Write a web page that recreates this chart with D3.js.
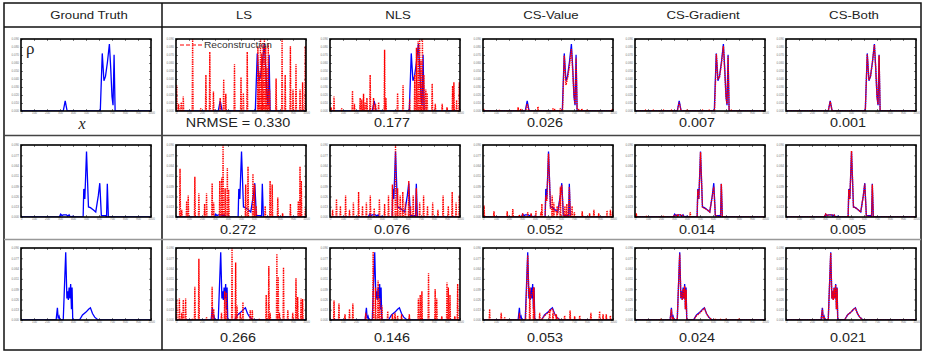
<!DOCTYPE html>
<html>
<head>
<meta charset="utf-8">
<script src="https://cdn.jsdelivr.net/npm/d3@7"></script>
<style>
  body { margin: 0; background: #fff; }
  text { font-family: "Liberation Sans", Arial, sans-serif; }
</style>
</head>
<body>
<svg id="fig" width="925" height="353"></svg>
<script>
// column titles and error values
const methods = ["Ground Truth", "LS", "NLS", "CS-Value", "CS-Gradient", "CS-Both"];
const nrmseRow1 = [0.330, 0.177, 0.026, 0.007, 0.001];
const nrmseRow2 = [0.272, 0.076, 0.052, 0.014, 0.005];
const nrmseRow3 = [0.266, 0.146, 0.053, 0.024, 0.021];
const xTicks = [0, 10, 20, 30, 40, 50, 60, 70, 80, 90, 100];
const yTickCounts = [10, 8, 8];

// ground truth densities, [x, rho]
const truth1 = [[0,0],[32.5,0],[34,0.14],[35.5,0],[61,0],[62.5,0.80],[63.8,0.42],[65,0.48],[66.5,0.68],[68,0.93],[69,0.6],[70,0.2],[70.8,0.08],[71.6,0.78],[72.4,0],[100,0]];
const truth2 = [[0,0],[29.5,0],[30.5,0.04],[31.5,0.02],[32.5,0.03],[34,0.03],[35,0.03],[36,0.01],[37,0.03],[38,0],[40,0.01],[41,0],[47.8,0],[48.3,0.39],[49.1,0.25],[50.4,0.91],[51.9,0.14],[53.4,0.13],[55.5,0.1],[57.5,0.07],[59.5,0.3],[60.6,0.47],[61.8,0.02],[65,0.02],[65.8,0],[66.4,0.46],[67.2,0],[100,0]];
const truth3 = [[0,0],[27,0],[28,0.17],[28.6,0.02],[29.3,0.05],[30,0],[32.5,0],[34.4,0.94],[35.3,0.3],[35.8,0.4],[36.4,0.28],[37,0.45],[37.6,0.3],[38.2,0.5],[38.8,0.15],[39.3,0.45],[39.8,0],[45,0],[47.3,0.07],[50,0.11],[52,0.15],[53.4,0.17],[55,0.09],[56.7,0.04],[59.3,0],[100,0]];

// reconstructions: smooth parts [x, rho] and isolated spikes [x, height]
const ls1Spikes = [[0.5,0.36],[2,0.1],[4,0.12],[5.6,0.2],[12.8,1.0],[19,0.04],[23,0.5],[26,0.82],[28.8,0.27],[34,0.18],[36.7,0.44],[38.3,0.24],[45,0.65],[50,0.47],[51.8,0.25],[54.8,0.82],[63,0.9],[64,0.55],[65,1.0],[66,0.8],[67,0.95],[68,1.0],[69,0.9],[70,0.6],[71,0.95],[72,0.3],[77,0.45],[81.6,1.0],[84,0.5],[88,0.9],[90,0.3],[92.3,0.65],[95.4,0.3],[97.4,0.4],[99.5,0.9]];
const nls1Spikes = [[0.8,0.05],[3.1,0.2],[9,0.04],[17.3,0.28],[18.8,0.1],[23.2,0.18],[24.5,0.16],[25.8,0.24],[27,0.12],[28.4,0.18],[30.9,0.5],[33.5,0.18],[35,0.1],[37.4,0.12],[42,0.85],[43,0.18],[52,0.25],[56.2,0.36],[61.3,0.17],[65.2,0.5],[66.5,0.88],[67.8,0.97],[69,1.0],[70,0.7],[71.1,1.0],[72.2,0.5],[73.7,0.3],[74.7,0.25],[78.6,0.38],[81,0.1],[86.3,0.1],[90,0.05],[94.3,0.35],[95.3,0.4],[97.4,0.15],[99.5,0.4]];
const csv1Line = [[0,0],[32.8,0],[34,0.1],[35.3,0],[61.2,0],[62.5,0.77],[63.8,0.36],[65,0.45],[66.5,0.62],[68,0.86],[69,0.55],[70,0.22],[70.8,0.1],[71.6,0.74],[72.4,0],[100,0]];
const csv1Spikes = [[0.5,0.03],[12.8,0.02],[27,0.05],[29,0.03],[42.3,0.06],[53.8,0.04],[55,0.03],[59.5,0.04],[73.5,0.03],[76,0.03],[80,0.02],[99.5,0.03]];
const csg1Line = [[0,0],[32.6,0],[34,0.12],[35.4,0],[61.2,0],[62.6,0.79],[63.8,0.45],[65,0.47],[66.5,0.66],[68,0.9],[69,0.55],[70,0.2],[70.8,0.1],[71.6,0.76],[72.4,0],[100,0]];
const csg1Spikes = [[8,0.01],[14,0.01],[22,0.01],[28,0.01],[40,0.01],[52,0.01],[57,0.01],[74,0.01]];
const csb1Line = [[0,0],[32.5,0],[34,0.13],[35.5,0],[61,0],[62.5,0.79],[63.8,0.43],[65,0.48],[66.5,0.68],[68,0.92],[69,0.6],[70,0.2],[70.8,0.09],[71.6,0.77],[72.4,0],[100,0]];

const ls2Spikes = [[3.1,0.67],[4.4,0.1],[8.2,0.22],[9.4,0.3],[14.5,0.56],[17.6,0.33],[22,0.18],[23.5,0.33],[27.8,0.47],[29,0.2],[33.7,0.5],[35.2,0.55],[36.2,1.0],[37.8,0.4],[39.5,0.68],[40.5,0.38],[53.6,0.45],[55.4,0.7],[59.2,0.6],[60.4,0.45],[61.7,0.15],[68.6,0.15],[72.4,0.5],[74,0.45],[78.3,0.27],[82,0.05],[88,0.18],[94.1,0.22],[95.4,0.7],[96.4,0.5],[99.5,0.12]];
const nls2Spikes = [[2,0.1],[5,0.25],[8,0.15],[12,0.3],[15,0.1],[18,0.2],[22,0.35],[25,0.15],[28,0.2],[31,0.3],[34,0.12],[38,0.25],[42,0.18],[45,0.3],[48,0.45],[50.4,1.0],[52,0.4],[54,0.3],[56,0.35],[58,0.2],[60.6,0.5],[62,0.15],[64,0.3],[66.4,0.4],[69,0.2],[72,0.3],[75,0.15],[79,0.2],[83,0.1],[87,0.3],[91,0.15],[94,0.35],[97,0.2],[99.5,0.3]];
const csv2Line = [[0,0],[47.8,0],[48.3,0.3],[49.1,0.22],[50.4,0.88],[51.9,0.12],[53.4,0.1],[55.5,0.08],[57.5,0.06],[59.5,0.28],[60.6,0.44],[61.8,0.02],[65.8,0],[66.4,0.42],[67.2,0],[100,0]];
const csv2Spikes = [[0.8,0.16],[8.4,0.08],[18.6,0.08],[22.9,0.11],[28,0.03],[30.5,0.05],[34.4,0.07],[37,0.05],[40.7,0.09],[44.5,0.07],[45.3,0.18],[53.2,0.3],[54.5,0.2],[57,0.15],[59.5,0.42],[63,0.15],[64.5,0.18],[68.5,0.15],[70.3,0.07],[76.3,0.08],[82,0.05],[85.3,0.1],[89,0.05],[95.4,0.09],[98,0.1],[99.7,0.08]];
const csg2Line = [[0,0],[29.5,0],[30.5,0.03],[32,0.03],[35,0.03],[37,0.02],[38,0],[47.8,0],[48.3,0.37],[49.1,0.25],[50.4,0.9],[51.9,0.14],[53.4,0.12],[55.5,0.1],[57.5,0.07],[59.5,0.3],[60.6,0.42],[61.8,0.02],[65.8,0],[66.4,0.46],[67.2,0],[100,0]];
const csg2Spikes = [[1,0.05],[9,0.02],[22,0.02],[33,0.03],[42.5,0.07]];
const csb2Line = [[0,0],[29.5,0],[30.5,0.04],[31.5,0.02],[33,0.03],[35,0.03],[37,0.03],[38,0],[47.8,0],[48.3,0.38],[49.1,0.25],[50.4,0.92],[51.9,0.14],[53.4,0.13],[55.5,0.1],[57.5,0.07],[59.5,0.3],[60.6,0.46],[61.8,0.02],[65.8,0],[66.4,0.45],[67.2,0],[100,0]];

const ls3Spikes = [[0.5,0.28],[2.6,0.3],[4.4,0.1],[5.6,0.28],[7.4,0.3],[12.8,0.02],[14.5,0.46],[17.6,0.85],[23.5,0.04],[27.8,0.46],[29,0.15],[35,0.1],[37.5,0.4],[38.8,0.38],[43.1,1.0],[45.9,0.8],[47,0.2],[49.5,0.1],[51.5,0.25],[57.1,0.14],[58.7,0.14],[64.3,0.02],[69.4,0.35],[71.4,0.75],[72.4,0.1],[77.6,0.92],[78.6,0.6],[79.6,0.1],[82.7,0.73],[86,0.14],[89.8,0.1],[92.3,0.58],[93.6,0.32],[96.2,0.3],[97.4,0.29]];
const nls3Spikes = [[3.1,0.27],[6.9,0.23],[11.5,0.08],[15,0.15],[17.6,0.23],[27.5,0.1],[33.2,0.95],[35,0.45],[37,0.55],[38.3,0.3],[40,0.2],[44.4,0.12],[48,0.08],[50,0.1],[52,0.06],[55,0.08],[61,0.08],[68,0.3],[69.4,0.35],[70.7,0.4],[75.8,0.65],[80.9,0.43],[82.1,0.3],[86,0.05],[90,0.52],[91,0.45],[92.3,0.35],[96,0.05],[98.2,0.5]];
const csv3Line = [[0,0],[32.8,0],[34.4,0.9],[35.3,0.35],[36.4,0.3],[37.6,0.35],[39,0.45],[39.8,0],[45,0],[47.3,0.06],[50,0.1],[52,0.13],[53.4,0.15],[55,0.08],[57,0.03],[59.3,0],[100,0]];
const csv3Spikes = [[5.1,0.15],[14,0.1],[16.7,0.04],[28,0.1],[36,0.45],[39,0.45],[43.6,0.1],[51.3,0.15],[53.8,0.1],[56.4,0.08],[62.8,0.06],[67,0.13],[70.5,0.05],[74.4,0.06],[83,0.1],[89.7,0.12],[92.3,0.08],[94.8,0.08],[98,0.06]];
const csg3Line = [[0,0],[27,0],[28,0.15],[28.6,0.02],[29.3,0.04],[30,0],[32.5,0],[34.4,0.92],[35.3,0.3],[35.8,0.38],[36.4,0.28],[37,0.43],[37.6,0.3],[38.2,0.47],[38.8,0.15],[39.3,0.42],[39.8,0],[45,0],[47.3,0.06],[50,0.1],[52,0.14],[53.4,0.16],[55,0.09],[56.7,0.04],[59.3,0],[100,0]];
const csg3Spikes = [[20,0.02],[62,0.02],[66,0.02],[70,0.02],[80,0.01]];
const csb3Line = [[0,0],[27,0],[28,0.16],[28.6,0.02],[29.3,0.05],[30,0],[32.5,0],[34.4,0.93],[35.3,0.3],[35.8,0.4],[36.4,0.28],[37,0.44],[37.6,0.3],[38.2,0.49],[38.8,0.15],[39.3,0.44],[39.8,0],[45,0],[47.3,0.07],[50,0.11],[52,0.15],[53.4,0.16],[55,0.09],[56.7,0.04],[59.3,0],[100,0]];

const rows = [
  { truth: truth1, nrmse: nrmseRow1, recs: [
    { spikes: ls1Spikes }, { spikes: nls1Spikes },
    { line: csv1Line, spikes: csv1Spikes }, { line: csg1Line, spikes: csg1Spikes }, { line: csb1Line } ] },
  { truth: truth2, nrmse: nrmseRow2, recs: [
    { spikes: ls2Spikes }, { spikes: nls2Spikes },
    { line: csv2Line, spikes: csv2Spikes }, { line: csg2Line, spikes: csg2Spikes }, { line: csb2Line } ] },
  { truth: truth3, nrmse: nrmseRow3, recs: [
    { spikes: ls3Spikes }, { spikes: nls3Spikes },
    { line: csv3Line, spikes: csv3Spikes }, { line: csg3Line, spikes: csg3Spikes }, { line: csb3Line } ] }
];

// layout
const colLeft = [21, 176, 330, 483, 635, 786];
const rowTop = [39, 145, 248];
const labelY = [127, 234, 342];
const plotW = 130, plotH = 72;

const svg = d3.select("#fig");

// table lines
svg.append("rect").attr("x", 4).attr("y", 3).attr("width", 917).attr("height", 347)
  .attr("fill", "none").attr("stroke", "#111").attr("stroke-width", 1.5);
svg.append("line").attr("x1", 4).attr("x2", 921).attr("y1", 27).attr("y2", 27)
  .attr("stroke", "#111").attr("stroke-width", 1.3);
svg.append("line").attr("x1", 162).attr("x2", 162).attr("y1", 3).attr("y2", 350)
  .attr("stroke", "#111").attr("stroke-width", 1.5);
svg.append("line").attr("x1", 4).attr("x2", 921).attr("y1", 135.5).attr("y2", 135.5)
  .attr("stroke", "#444").attr("stroke-width", 1.3);
svg.append("line").attr("x1", 4).attr("x2", 921).attr("y1", 239.5).attr("y2", 239.5)
  .attr("stroke", "#999").attr("stroke-width", 1.3);

// stretched text helper
function label(x, y, str, size) {
  svg.append("text")
    .attr("transform", `translate(${x},${y}) scale(1.2,1)`)
    .attr("text-anchor", "middle")
    .attr("font-size", size)
    .attr("fill", "#222")
    .text(str);
}

methods.forEach((m, i) => label(colLeft[i] + plotW / 2 + 3, 19, m, 11));

const x = d3.scaleLinear().domain([0, 100]).range([0, plotW]);
const y = d3.scaleLinear().domain([0, 1]).range([plotH, 0]);
const line = d3.line().x(d => x(d[0])).y(d => y(d[1]));
const spikePath = s => line([[s[0] - 0.35, 0], [s[0], s[1]], [s[0] + 0.35, 0]]);

function panel(ri, ci) {
  const g = svg.append("g").attr("transform", `translate(${colLeft[ci]},${rowTop[ri]})`);
  const n = yTickCounts[ri];
  const yVals = d3.range(n).map(i => i / (n - 1));

  g.append("g").attr("transform", `translate(0,${plotH})`)
    .call(d3.axisBottom(x).tickValues(xTicks).tickSize(-2).tickPadding(1).tickFormat(d => d * 10));
  g.append("g")
    .call(d3.axisLeft(y).tickValues(yVals).tickSize(-2).tickPadding(2).tickFormat(d => (d * 0.09).toFixed(3)));
  g.append("g").call(d3.axisTop(x).tickValues(xTicks).tickSize(-2).tickFormat(""));
  g.append("g").attr("transform", `translate(${plotW},0)`)
    .call(d3.axisRight(y).tickValues(yVals).tickSize(-2).tickFormat(""));
  g.selectAll(".domain").remove();
  g.selectAll(".tick line").attr("stroke", "#333").attr("stroke-width", 0.6);
  g.selectAll(".tick text").attr("font-size", 3).attr("fill", "#777");

  g.append("clipPath").attr("id", `c${ri}${ci}`)
    .append("rect").attr("x", 0).attr("y", -1).attr("width", plotW).attr("height", plotH + 1);
  const body = g.append("g").attr("clip-path", `url(#c${ri}${ci})`);

  const row = rows[ri];
  body.append("path").attr("d", line(row.truth))
    .attr("fill", "none").attr("stroke", "#0000ff").attr("stroke-width", 1.3);

  if (ci > 0) {
    const rec = row.recs[ci - 1];
    const red = body.append("g").attr("fill", "none").attr("stroke", "#ff0000")
      .attr("stroke-width", 1.4).attr("stroke-dasharray", "1.4,0.9");
    if (rec.line) red.append("path").attr("d", line(rec.line));
    if (rec.spikes) rec.spikes.forEach(s => red.append("path").attr("d", spikePath(s)));
  }

  g.append("rect").attr("width", plotW).attr("height", plotH)
    .attr("fill", "none").attr("stroke", "#000").attr("stroke-width", 1.6);
}

rows.forEach((row, ri) => {
  for (let ci = 0; ci < 6; ci++) panel(ri, ci);
  row.nrmse.forEach((v, k) => {
    const txt = (ri === 0 && k === 0 ? "NRMSE = " : "") + v.toFixed(3);
    label(colLeft[k + 1] + plotW / 2 - 3, labelY[ri], txt, 12);
  });
});

// axis symbols on the first truth panel
svg.append("text").attr("x", 26).attr("y", 54)
  .style("font-family", "'Liberation Serif', 'DejaVu Serif', serif")
  .attr("font-size", 17).attr("fill", "#222").text("ρ");
svg.append("text").attr("x", 82).attr("y", 129).attr("text-anchor", "middle")
  .style("font-family", "'Liberation Serif', 'DejaVu Serif', serif")
  .attr("font-style", "italic").attr("font-size", 16).attr("fill", "#222").text("x");

// legend in the LS panel of the first row
svg.append("line").attr("x1", 180).attr("x2", 202).attr("y1", 45).attr("y2", 45)
  .attr("stroke", "#ff0000").attr("stroke-width", 1.2).attr("stroke-dasharray", "4,2");
svg.append("text").attr("transform", "translate(204,48) scale(1.2,1)")
  .attr("font-size", 8.5).attr("fill", "#333").text("Reconstruction");
</script>
</body>
</html>
